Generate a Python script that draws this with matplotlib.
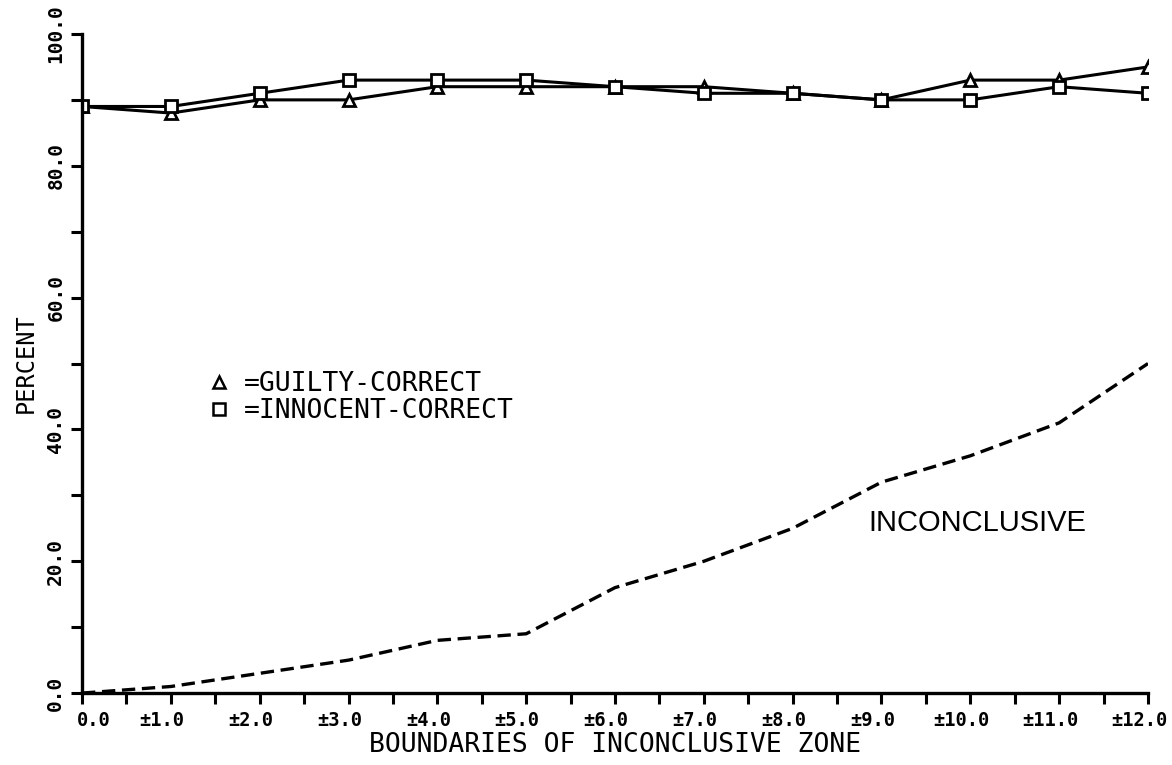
import matplotlib
matplotlib.use("Agg")
import matplotlib.pyplot as plt
import matplotlib.transforms as mtransforms
from matplotlib.lines import Line2D

# boundaries of the inconclusive zone (+/- value)
zone = [0, 1, 2, 3, 4, 5, 6, 7, 8, 9, 10, 11, 12]
guilty_correct = [89, 88, 90, 90, 92, 92, 92, 92, 91, 90, 93, 93, 95]
innocent_correct = [89, 89, 91, 93, 93, 93, 92, 91, 91, 90, 90, 92, 91]
inconclusive = [0, 1, 3, 5, 8, 9, 16, 20, 25, 32, 36, 41, 50]

x_labels = ["0.0"] + ["\u00b1%d.0" % v for v in zone[1:]]
y_ticks = [0, 20, 40, 60, 80, 100]

MONO = ["DejaVu Sans Mono", "DejaVu Sans"]


def main():
    fig = plt.figure(figsize=(11.72, 7.65), dpi=100)
    ax = fig.add_axes([0.070, 0.094, 0.9095, 0.8616])

    ax.plot(zone, guilty_correct, color="black", lw=2.2, marker="^",
            markersize=9, markerfacecolor="white", markeredgecolor="black",
            markeredgewidth=2)
    ax.plot(zone, innocent_correct, color="black", lw=2.2, marker="s",
            markersize=9, markerfacecolor="white", markeredgecolor="black",
            markeredgewidth=2)
    ax.plot(zone, inconclusive, color="black", lw=2.4, dashes=(4, 2))

    ax.set_xlim(0, 12)
    ax.set_ylim(0, 100)
    ax.set_xticks(zone)
    ax.set_xticks([v + 0.5 for v in zone[:-1]], minor=True)
    ax.set_xticklabels(x_labels, family=MONO, fontsize=13.5, fontweight="bold")
    ax.set_yticks(y_ticks)
    ax.set_yticks([10, 30, 50, 70, 90], minor=True)
    ax.set_yticklabels(["%.1f" % v for v in y_ticks], family=MONO,
                       fontsize=14, fontweight="bold", rotation=90,
                       va="center")

    for side in ["top", "right"]:
        ax.spines[side].set_visible(False)
    for side in ["left", "bottom"]:
        ax.spines[side].set_linewidth(2.4)
    ax.tick_params(which="both", direction="out", length=8, width=2.2)
    ax.tick_params(axis="x", which="both", pad=5)
    ax.tick_params(axis="y", which="both", pad=4)

    # the plotter labels sit a little off their ticks: 0.0 to the right, the rest left
    for i, tick in enumerate(ax.xaxis.get_major_ticks()):
        dx = 12 if i == 0 else -9
        shift = mtransforms.ScaledTranslation(dx / 100, 0, fig.dpi_scale_trans)
        tick.label1.set_transform(tick.label1.get_transform() + shift)

    ax.set_xlabel("BOUNDARIES OF INCONCLUSIVE ZONE", family=MONO,
                  fontsize=19, labelpad=1)
    ax.set_ylabel("PERCENT", family=MONO, fontsize=17, labelpad=6)

    handles = [
        Line2D([], [], ls="none", marker="^", markersize=8,
               markerfacecolor="white", markeredgecolor="black",
               markeredgewidth=1.8),
        Line2D([], [], ls="none", marker="s", markersize=8,
               markerfacecolor="white", markeredgecolor="black",
               markeredgewidth=1.8),
    ]
    ax.legend(handles, ["=GUILTY-CORRECT", "=INNOCENT-CORRECT"],
              loc="upper left", bbox_to_anchor=(0.096, 0.525),
              frameon=False, handlelength=0.8, handletextpad=0.55,
              labelspacing=0.05, prop={"family": MONO, "size": 19})

    ax.text(8.85, 25.8, "INCONCLUSIVE", family=["Liberation Sans", "DejaVu Sans"],
            fontsize=21, ha="left", va="center")

    fig.savefig("out.png", dpi=100)


if __name__ == "__main__":
    main()
